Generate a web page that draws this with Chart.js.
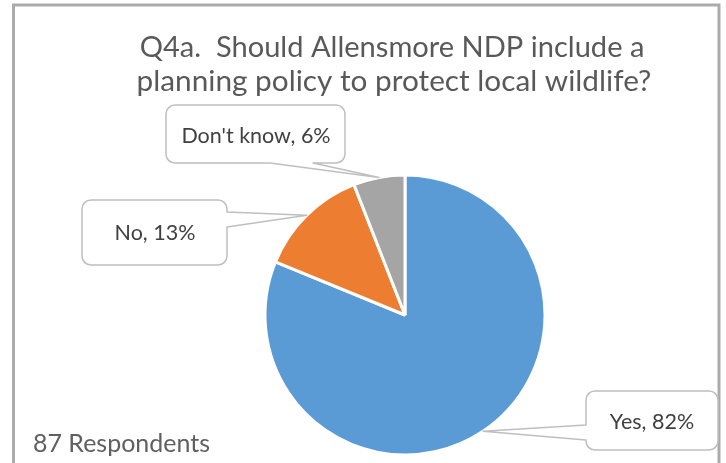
<!DOCTYPE html>
<html>
<head>
<meta charset="utf-8">
<script src="https://cdn.jsdelivr.net/npm/chart.js@4/dist/chart.umd.min.js"></script>
<style>
html,body{margin:0;padding:0;background:#fff;}
#wrap{width:726px;height:463px;position:relative;}
</style>
</head>
<body>
<div id="wrap"><canvas id="c" width="726" height="463"></canvas></div>
<script>
const categories = ["Yes", "No", "Don't know"];
const percentValues = [82, 13, 6];
const sliceColors = ["#5B9BD5", "#ED7D31", "#A5A5A5"];
const titleLines = ["Q4a.  Should Allensmore NDP include a", "planning policy to protect local wildlife?"];
const footnote = "87 Respondents";

// callout layout (positions only; anchors come from the arc elements)
const callouts = [
  {box:[586, 391, 132, 59], edge:'left',   ptr:[425, 440], tx:652, ty:422},
  {box:[82, 200, 145, 65],  edge:'right',  ptr:[212, 227], tx:155, ty:233},
  {box:[166, 105, 179, 58], edge:'bottom', ptr:[270, 313], tx:256, ty:136}
];

const FONT = "Lato, 'Open Sans', sans-serif";

function fitFont(ctx, text, target, base, weight){
  ctx.font = (weight||'') + ' ' + base + 'px ' + FONT;
  const w = ctx.measureText(text).width;
  return base * target / w;
}

function roundBoxWithPointer(ctx, x, y, w, h, r, edge, p0, p1, ax, ay){
  ctx.beginPath();
  ctx.moveTo(x + r, y);
  ctx.lineTo(x + w - r, y);
  ctx.arcTo(x + w, y, x + w, y + r, r);
  if (edge === 'right'){
    ctx.lineTo(x + w, p0); ctx.lineTo(ax, ay); ctx.lineTo(x + w, p1);
  }
  ctx.lineTo(x + w, y + h - r);
  ctx.arcTo(x + w, y + h, x + w - r, y + h, r);
  if (edge === 'bottom'){
    ctx.lineTo(p1, y + h); ctx.lineTo(ax, ay); ctx.lineTo(p0, y + h);
  }
  ctx.lineTo(x + r, y + h);
  ctx.arcTo(x, y + h, x, y + h - r, r);
  if (edge === 'left'){
    ctx.lineTo(x, p1); ctx.lineTo(ax, ay); ctx.lineTo(x, p0);
  }
  ctx.lineTo(x, y + r);
  ctx.arcTo(x, y, x + r, y, r);
  ctx.closePath();
}

const decor = {
  id: 'decor',
  beforeDraw(chart){
    const ctx = chart.ctx;
    ctx.save();
    ctx.fillStyle = '#fff';
    ctx.fillRect(0, 0, chart.width, chart.height);
    ctx.strokeStyle = '#ABABAB';
    ctx.lineWidth = 3;
    ctx.strokeRect(13.5, 5, 705.5, 520);
    // title
    ctx.fillStyle = '#595959';
    ctx.textAlign = 'center';
    ctx.textBaseline = 'alphabetic';
    const s1 = fitFont(ctx, titleLines[0], 505, 28);
    ctx.font = s1 + 'px ' + FONT;
    ctx.fillText(titleLines[0], 392, 57);
    const s2 = fitFont(ctx, titleLines[1], 515, 28);
    ctx.font = s2 + 'px ' + FONT;
    ctx.fillText(titleLines[1], 394, 91);
    // footnote
    ctx.textAlign = 'left';
    const s3 = fitFont(ctx, footnote, 177, 22);
    ctx.font = s3 + 'px ' + FONT;
    ctx.fillStyle = '#5f5f5f';
    ctx.fillText(footnote, 33, 452);
    ctx.restore();
  },
  afterDatasetsDraw(chart){
    const ctx = chart.ctx;
    const meta = chart.getDatasetMeta(0);
    ctx.save();
    meta.data.forEach((arc, i) => {
      const c = callouts[i];
      if (!c) return;
      const p = arc.getProps(['x','y','startAngle','endAngle','outerRadius'], true);
      const mid = (p.startAngle + p.endAngle) / 2;
      const ax = p.x + Math.cos(mid) * p.outerRadius;
      const ay = p.y + Math.sin(mid) * p.outerRadius;
      const [bx, by, bw, bh] = c.box;
      roundBoxWithPointer(ctx, bx, by, bw, bh, 9, c.edge, c.ptr[0], c.ptr[1], ax, ay);
      ctx.fillStyle = '#ffffff';
      ctx.fill();
      ctx.strokeStyle = '#BFBFBF';
      ctx.lineWidth = 1.5;
      ctx.lineJoin = 'round';
      ctx.stroke();
      const label = categories[i] + ', ' + percentValues[i] + '%';
      ctx.fillStyle = '#404040';
      ctx.textAlign = 'center';
      ctx.textBaseline = 'middle';
      ctx.font = '21.5px ' + FONT;
      ctx.fillText(label, c.tx, c.ty);
    });
    ctx.restore();
  }
};

new Chart(document.getElementById('c'), {
  type: 'pie',
  data: {
    labels: categories,
    datasets: [{
      data: percentValues,
      backgroundColor: sliceColors,
      borderColor: '#ffffff',
      borderWidth: 3
    }]
  },
  options: {
    responsive: false,
    animation: false,
    layout: {padding: {left: 263.5, top: 173.5, right: 179.5, bottom: 6.5}},
    plugins: {
      legend: {display: false},
      tooltip: {enabled: false},
      title: {display: false}
    }
  },
  plugins: [decor]
});
</script>
</body>
</html>
